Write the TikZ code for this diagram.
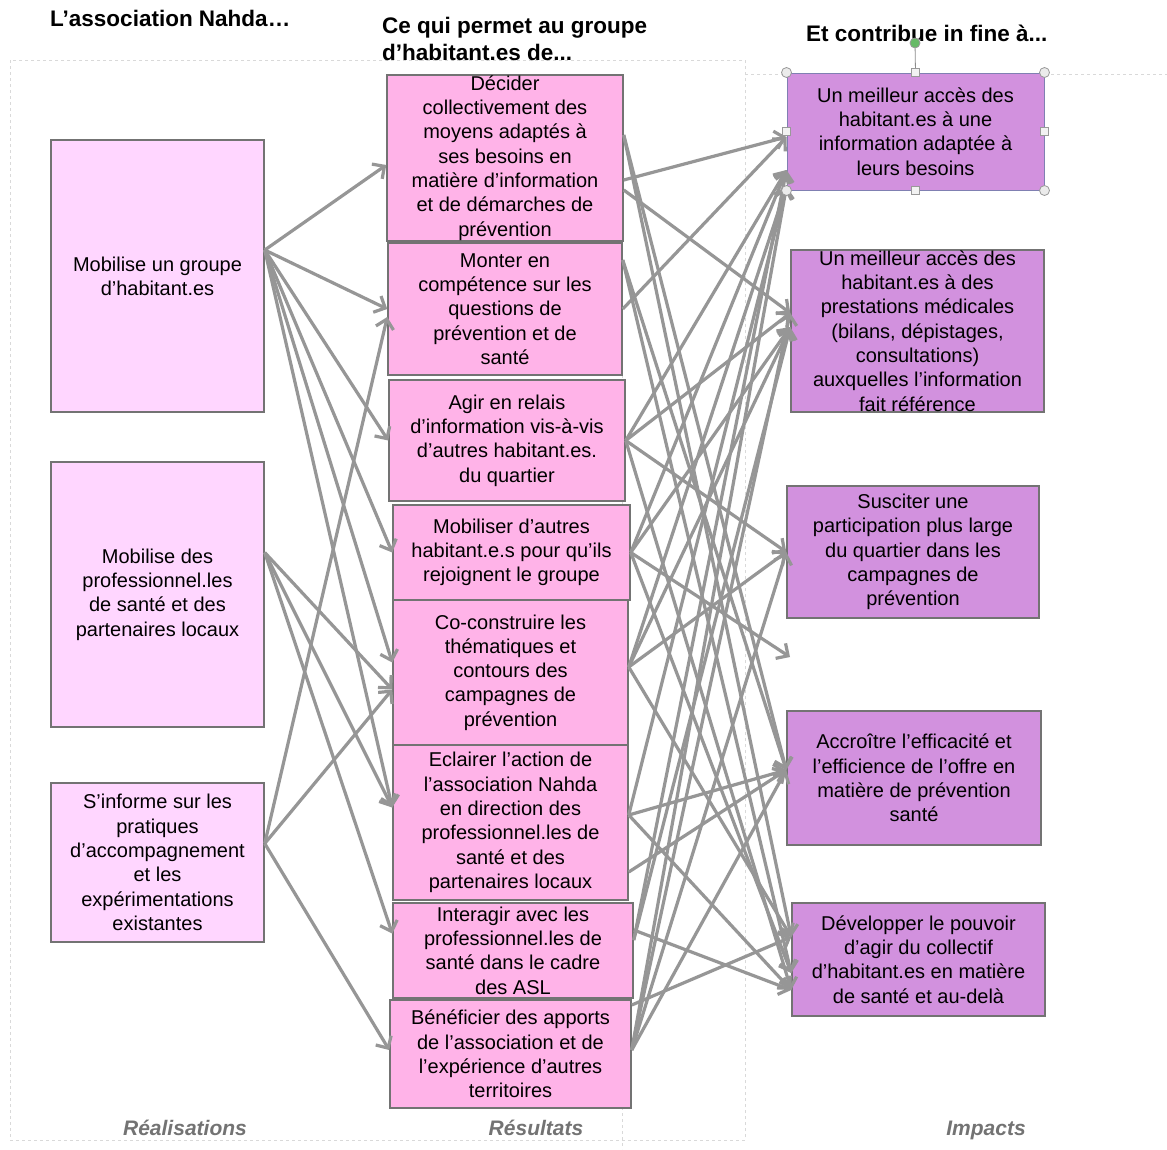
\documentclass[tikz,border=0pt]{standalone}
\usepackage{fontspec}
\setmainfont{Liberation Sans}
\usetikzlibrary{arrows.meta}
\definecolor{roseclair}{RGB}{255,214,255}
\definecolor{rose}{RGB}{255,179,232}
\definecolor{mauve}{RGB}{210,145,222}
\definecolor{fleche}{RGB}{150,150,150}

\begin{document}
\begin{tikzpicture}[x=1pt,y=-1pt,
	boite/.style={draw=black!55,line width=1.5pt,rectangle,inner sep=0pt,align=center,font=\fontsize{20}{24.3}\selectfont},
	real/.style={boite,fill=roseclair,minimum width=213pt},
	res/.style={boite,fill=rose},
	imp/.style={boite,fill=mauve},
	flux/.style={draw=fleche,line width=3.2pt,-{Straight Barb[length=9pt,width=18pt]}},
	titre/.style={font=\fontsize{22.5}{27}\selectfont\bfseries,inner sep=0pt,align=left},
	colonne/.style={font=\fontsize{21}{25}\selectfont\bfseries\itshape,text=black!55,inner sep=0pt,anchor=base},
	cadre/.style={draw=black!15,dashed,line width=1pt},
	poignee/.style={circle,draw=black!40,fill=black!8,line width=0.8pt,minimum size=10pt,inner sep=0pt},
	carre/.style={rectangle,draw=black!40,fill=black!5,line width=0.8pt,minimum size=8pt,inner sep=0pt}]
				\fill[white] (0,0) rectangle (1167,1149);
				\useasboundingbox (0,0) rectangle (1167,1149);
				\draw[cadre] (10,60) rectangle (745,1140);
				\draw[cadre] (745,74) -- (1167,74);
				\draw[cadre] (622,243) -- (622,1149);

				\node[titre,anchor=west] (tReal) at (50,18) {L’association Nahda…};
				\node[titre,anchor=west] (tRes) at (382,38.5) {Ce qui permet au groupe\\d’habitant.es de...};
				\node[titre,anchor=west] (tImp) at (806,33) {Et contribue in fine à...};

				\node[real,minimum height=272pt] (mobGroupe) at (157.5,276) {Mobilise un groupe\\d’habitant.es};
				\node[real,minimum height=265pt] (mobPro) at (157.5,594.5) {Mobilise des\\professionnel.les\\de santé et des\\partenaires locaux};
				\node[real,minimum height=159pt] (sinforme) at (157.5,862.5) {S’informe sur les\\pratiques\\d’accompagnement\\et les\\expérimentations\\existantes};

				\node[res,minimum width=236pt,minimum height=166pt] (decider) at (505,158) {Décider\\collectivement des\\moyens adaptés à\\ses besoins en\\matière d’information\\et de démarches de\\prévention};
				\node[res,minimum width=234pt,minimum height=132pt] (monter) at (505,309) {Monter en\\compétence sur les\\questions de\\prévention et de\\santé};
				\node[res,minimum width=236pt,minimum height=121pt] (agir) at (507,440.5) {Agir en relais\\d’information vis-à-vis\\d’autres habitant.es.\\du quartier};
				\node[res,minimum width=237pt,minimum height=95pt] (mobiliser) at (511.5,552.5) {Mobiliser d’autres\\habitant.e.s pour qu’ils\\rejoignent le groupe};
				\node[res,minimum width=235pt,minimum height=145pt] (coconstruire) at (510.5,672.5) {Co-construire les\\thématiques et\\contours des\\campagnes de\\prévention};
				\node[res,minimum width=235pt,minimum height=155pt] (eclairer) at (510.5,822.5) {Eclairer l’action de\\l’association Nahda\\en direction des\\professionnel.les de\\santé et des\\partenaires locaux};
				\node[res,minimum width=240pt,minimum height=95pt] (interagir) at (513,950.5) {Interagir avec les\\professionnel.les de\\santé dans le cadre\\des ASL};
				\node[res,minimum width=241pt,minimum height=108pt] (beneficier) at (510.5,1054) {Bénéficier des apports\\de l’association et de\\l’expérience d’autres\\territoires};

				\node[imp,draw=blue!40!black!50,line width=1pt,minimum width=257pt,minimum height=117pt] (accesInfo) at (915.5,131.5) {Un meilleur accès des\\habitant.es à une\\information adaptée à\\leurs besoins};
				\node[imp,minimum width=253pt,minimum height=162pt] (accesPrest) at (917.5,331) {Un meilleur accès des\\habitant.es à des\\prestations médicales\\(bilans, dépistages,\\consultations)\\auxquelles l’information\\fait référence};
				\node[imp,minimum width=252pt,minimum height=132pt] (susciter) at (913,552) {Susciter une\\participation plus large\\du quartier dans les\\campagnes de\\prévention};
				\node[imp,minimum width=254pt,minimum height=134pt] (accroitre) at (914,778) {Accroître l’efficacité et\\l’efficience de l’offre en\\matière de prévention\\santé};
				\node[imp,minimum width=253pt,minimum height=113pt] (developper) at (918.5,959.5) {Développer le pouvoir\\d’agir du collectif\\d’habitant.es en matière\\de santé et au-delà};
				\coordinate (vide) at (790,657);

				\draw[flux] ([yshift=26pt]mobGroupe.east) -- ([yshift=-7pt]decider.west);
				\draw[flux] ([yshift=26pt]mobGroupe.east) -- (monter.west);
				\draw[flux] ([yshift=26pt]mobGroupe.east) -- (agir.west);
				\draw[flux] ([yshift=26pt]mobGroupe.east) -- (mobiliser.west);
				\draw[flux] ([yshift=26pt]mobGroupe.east) -- ([yshift=10pt]coconstruire.west);
				\draw[flux] ([yshift=26pt]mobGroupe.east) -- ([yshift=15pt]eclairer.west);
				\draw[flux] ([yshift=42pt]mobPro.east) -- ([yshift=-17pt]coconstruire.west);
				\draw[flux] ([yshift=42pt]mobPro.east) -- ([yshift=15pt]eclairer.west);
				\draw[flux] ([yshift=42pt]mobPro.east) -- ([yshift=17pt]interagir.west);
				\draw[flux] ([yshift=19pt]sinforme.east) -- ([yshift=-8pt]monter.west);
				\draw[flux] ([yshift=19pt]sinforme.east) -- ([yshift=-17pt]coconstruire.west);
				\draw[flux] ([yshift=19pt]sinforme.east) -- ([yshift=4pt]beneficier.west);

				\draw[flux] ([yshift=-22pt]decider.east) -- ([yshift=-5.5pt]accesInfo.west);
				\draw[flux] ([yshift=-32pt]decider.east) -- ([yshift=18pt]accesPrest.west);
				\draw[flux] ([yshift=23pt]decider.east) -- ([yshift=8pt]accroitre.west);
				\draw[flux] ([yshift=23pt]decider.east) -- ([yshift=22.5pt]developper.west);
				\draw[flux] (monter.east) -- ([yshift=-5.5pt]accesInfo.west);
				\draw[flux] ([yshift=49pt]monter.east) -- ([yshift=-13.5pt]developper.west);
				\draw[flux] ([yshift=49pt]monter.east) -- ([yshift=8pt]accroitre.west);
				\draw[flux] (agir.east) -- ([yshift=-38.5pt]accesInfo.west);
				\draw[flux] (agir.east) -- ([yshift=18pt]accesPrest.west);
				\draw[flux] (agir.east) -- (susciter.west);
				\draw[flux] (agir.east) -- ([yshift=-30.5pt]developper.west);
				\draw[flux] (mobiliser.east) -- ([yshift=-38.5pt]accesInfo.west);
				\draw[flux] (mobiliser.east) -- ([yshift=4pt]accesPrest.west);
				\draw[flux] (mobiliser.east) -- (vide);
				\draw[flux] (mobiliser.east) -- ([yshift=-13.5pt]developper.west);
				\draw[flux] ([yshift=5.5pt]coconstruire.east) -- ([yshift=-55pt]accesInfo.west);
				\draw[flux] ([yshift=5.5pt]coconstruire.east) -- ([yshift=4pt]accesPrest.west);
				\draw[flux] ([yshift=5.5pt]coconstruire.east) -- (susciter.west);
				\draw[flux] ([yshift=5.5pt]coconstruire.east) -- ([yshift=22.5pt]developper.west);
				\draw[flux] ([yshift=7.5pt]eclairer.east) -- ([yshift=8pt]accroitre.west);
				\draw[flux] ([yshift=7.5pt]eclairer.east) -- ([yshift=-55pt]accesInfo.west);
				\draw[flux] ([yshift=7.5pt]eclairer.east) -- ([yshift=-30.5pt]developper.west);
				\draw[flux] ([yshift=-49.5pt]eclairer.east) -- ([yshift=8pt]accroitre.west);
				\draw[flux] ([yshift=20.5pt]interagir.east) -- ([yshift=-30.5pt]developper.west);
				\draw[flux] ([yshift=10.5pt]interagir.east) -- ([yshift=4pt]accesPrest.west);
				\draw[flux] ([yshift=10.5pt]interagir.east) -- ([yshift=-38.5pt]accesInfo.west);
				\draw[flux] ([yshift=49pt]beneficier.east) -- ([yshift=22.5pt]developper.west);
				\draw[flux] ([yshift=4pt]beneficier.east) -- ([yshift=-55pt]accesInfo.west);
				\draw[flux] ([yshift=4pt]beneficier.east) -- ([yshift=18pt]accesPrest.west);
				\draw[flux] ([yshift=4pt]beneficier.east) -- ([yshift=8pt]accroitre.west);
				\draw[flux] ([yshift=4pt]beneficier.east) -- (susciter.west);

				\node[poignee,fill=green!55!black!60] (rot) at (915,43) {};
				\draw[black!45,line width=0.8pt] (rot) -- (accesInfo.north);
				\node[poignee] (pNO) at (accesInfo.north west) {};
				\node[poignee] (pNE) at (accesInfo.north east) {};
				\node[poignee] (pSO) at (accesInfo.south west) {};
				\node[poignee] (pSE) at (accesInfo.south east) {};
				\node[carre] (pN) at (accesInfo.north) {};
				\node[carre] (pS) at (accesInfo.south) {};
				\node[carre] (pO) at (accesInfo.west) {};
				\node[carre] (pE) at (accesInfo.east) {};

				\node[colonne] (cReal) at (185,1135) {Réalisations};
				\node[colonne] (cRes) at (536,1135) {Résultats};
				\node[colonne] (cImp) at (986,1135) {Impacts};
			\end{tikzpicture}
\end{document}
